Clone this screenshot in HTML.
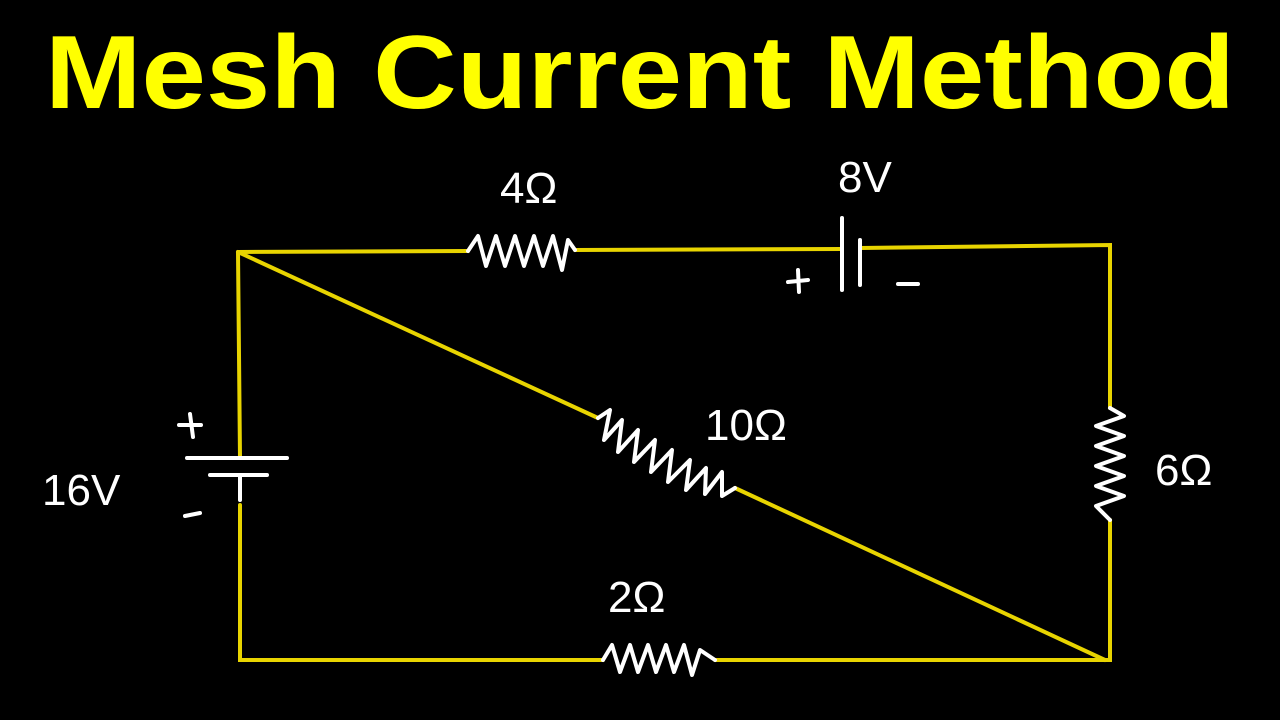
<!DOCTYPE html>
<html><head><style>
html,body{margin:0;padding:0;background:#000;width:1280px;height:720px;overflow:hidden}
</style></head><body>
<svg width="1280" height="720" xmlns="http://www.w3.org/2000/svg">
<rect width="1280" height="720" fill="#000"/>
<text x="640" y="108" text-anchor="middle" font-family="Liberation Sans, sans-serif" font-weight="bold" font-size="104" fill="#ffff00" textLength="1190" lengthAdjust="spacingAndGlyphs">Mesh Current Method</text>
<g stroke="#e8d400" stroke-width="4" fill="none" stroke-linecap="round">
<path d="M238 252 L468 251"/>
<path d="M575 250 L842 249"/>
<path d="M860 248 L1110 245 L1110 408"/>
<path d="M1110 520 L1110 660 L715 660"/>
<path d="M603 660 L240 660 L240 505"/>
<path d="M240 458 L238 252"/>
<path d="M238 252 L598 418"/>
<path d="M735 488 L1105 660"/>
</g>
<g stroke="#fff" stroke-width="4" fill="none" stroke-linecap="round" stroke-linejoin="round">
<path d="M468 251 L478 236 L486 266 L496 236 L505 266 L515 236 L524 266 L534 236 L543 266 L553 236 L562 270 L568 240 L575 250"/>
<path d="M603 660 L612 645 L620 672 L630 645 L638 672 L648 645 L656 672 L666 645 L674 672 L684 645 L692 675 L700 650 L715 660"/>
<path d="M1110 408 L1124 416 L1096 426 L1124 436 L1096 446 L1124 456 L1096 466 L1124 476 L1096 486 L1124 496 L1096 506 L1110 520"/>
<path d="M598 418 L610 410 L604 440 L622 420 L618 452 L638 430 L634 462 L655 440 L651 472 L672 450 L668 482 L690 460 L686 490 L706 468 L705 494 L722 472 L722 496 L735 488"/>
<path d="M187 458 L287 458"/>
<path d="M210 475 L267 475"/>
<path d="M240 475 L240 500"/>
<path d="M842 218 L842 290"/>
<path d="M860 240 L860 285"/>
<path d="M179 425 L201 425 M190 414 L193 437"/>
<path d="M185 516 L200 513"/>
<path d="M788 282 L808 280 M798 270 L799 292"/>
<path d="M898 284 L918 284"/>
</g>
<g font-family="Liberation Sans, sans-serif" fill="#fff" font-size="44">
<text x="500" y="203">4Ω</text>
<text x="838" y="192">8V</text>
<text x="705" y="440">10Ω</text>
<text x="1155" y="485">6Ω</text>
<text x="608" y="612">2Ω</text>
<text x="42" y="505">16V</text>
</g>
</svg>
</body></html>
